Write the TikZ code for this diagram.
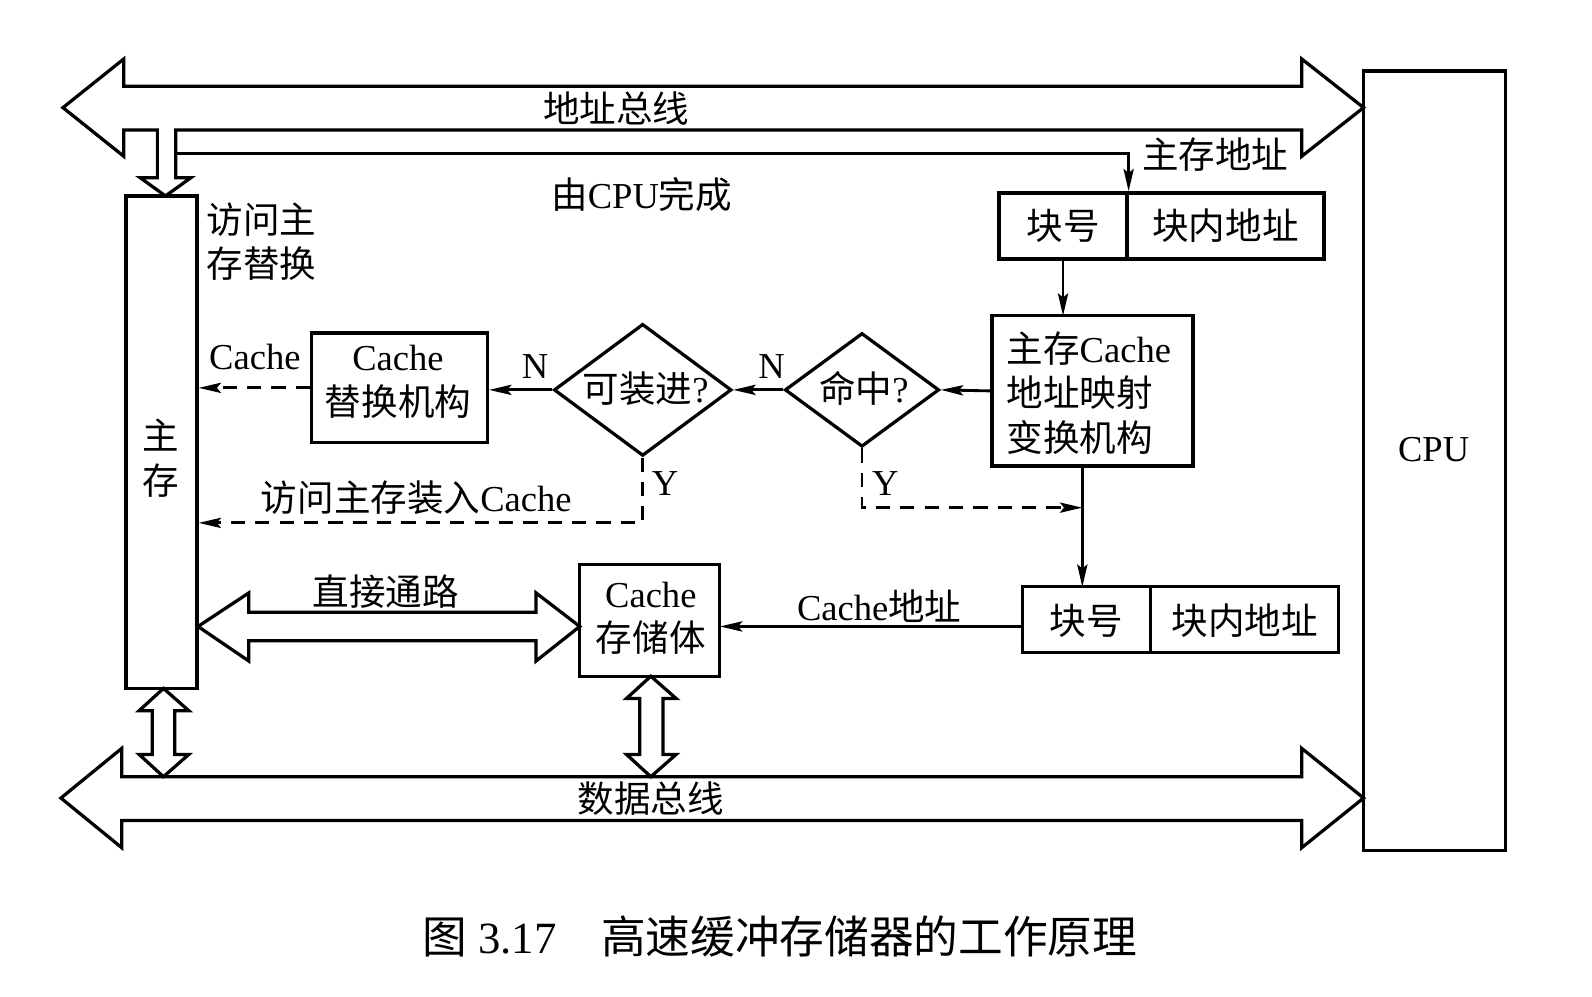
\documentclass[tikz,border=0pt]{standalone}
\usepackage{fontspec}
\setmainfont{Liberation Serif}
\newfontfamily\cjk{Noto Sans CJK SC}
\usetikzlibrary{arrows.meta,shapes.geometric,fit,calc}
\newcommand\zh[1]{{\cjk #1}}
\begin{document}
\begin{tikzpicture}[x=0.5pt,y=-0.5pt,
  every node/.style={font=\fontsize{18}{22}\selectfont, inner sep=0pt},
  box/.style={draw, line width=1.6pt, inner sep=0pt},
  ln/.style={line width=1.4pt},
  arr/.style={ln, -{Stealth[length=11pt,width=5pt,inset=2pt]}},
  dsh/.style={arr, dash pattern=on 7pt off 5pt},
  fat/.style={draw, line width=1.6pt, line join=miter, fill=white},
  dia/.style={draw, diamond, line width=1.6pt, inner sep=0pt},
  txt/.style={align=center},
]
\useasboundingbox (0,0) rectangle (1568,981);

% boxes
\node[box, fit={(124,193)(194,678)}] (mem) {};
\node[box, fit={(1343,70)(1483,838)}] (cpu) {};
\node[box, fit={(984,190)(1110,255)}] (blk1) {};
\node[box, fit={(1110,190)(1304,255)}] (off1) {};
\node[box, fit={(977,311)(1175,459)}] (map) {};
\node[box, fit={(307,328)(480,436)}] (repl) {};
\node[box, fit={(571,556)(709,666)}] (store) {};
\node[box, fit={(1007,578)(1133,643)}] (blk2) {};
\node[box, fit={(1133,578)(1318,643)}] (off2) {};
\node[dia, minimum width=76pt, minimum height=56pt] (hit) at (849,384) {};
\node[dia, minimum width=87.5pt, minimum height=65pt] (load) at (633,384) {};

% address bus with branch to main memory
\draw[fat] (62,106) -- (122,58) -- (122,85) -- (1282,85) -- (1282,58) -- (1343,106)
  -- (1282,154) -- (1282,128) -- (173,128) -- (173,175) -- (188,175) -- (163,193)
  -- (138,175) -- (155,175) -- (155,128) -- (122,128) -- (122,154) -- cycle;
% data bus
\draw[fat] (60,786) -- (120,737) -- (120,765) -- (1282,765) -- (1282,737) -- (1343,786)
  -- (1282,835) -- (1282,808) -- (120,808) -- (120,835) -- cycle;
% memory <-> data bus
\draw[fat] (161,678) -- (186,700) -- (172,700) -- (172,743) -- (186,743) -- (161,765)
  -- (137,743) -- (150,743) -- (150,700) -- (137,700) -- cycle;
% cache store <-> data bus
\draw[fat] (641,666) -- (666,688) -- (653,688) -- (653,743) -- (666,743) -- (641,765)
  -- (617,743) -- (630,743) -- (630,688) -- (617,688) -- cycle;
% direct path
\draw[fat] (195,617) -- (245,584) -- (245,603) -- (528,603) -- (528,584) -- (571,617)
  -- (528,651) -- (528,631) -- (245,631) -- (245,651) -- cycle;

% connectors
\coordinate (br) at (173,151);
\draw[arr] (br) -| (blk1.north east);
\draw[arr] (1047,255) -- (1047,311);
\draw[arr] (map.west) -- (hit.east);
\draw[arr] (hit.west) -- (load.east);
\draw[arr] (load.west) -- (load.west -| repl.east);
\draw[dsh] (repl.west) -- (repl.west -| mem.east);
\coordinate (yl) at (633,515);
\draw[dsh] (load.south) -- (yl) -- (yl -| mem.east);
\coordinate (yh) at (849,500);
\draw[dsh] (hit.south) -- (yh) -- (1066,500);
\draw[arr] (1066,459) -- (1066,578);
\draw[arr] (1007,617) -- (709,617);

% texts
\node at (607,107) {\zh{地址总线}};
\node at (1197,152) {\zh{主存地址}};
\node at (632,192) {\zh{由}CPU\zh{完成}};
\node[align=left, anchor=north west] at (203,199) {\zh{访问主}\\\zh{存替换}};
\node at (1047,222) {\zh{块号}};
\node at (1207,222) {\zh{块内地址}};
\node[align=left, anchor=west] at (991,387) {\zh{主存}Cache\\\zh{地址映射}\\\zh{变换机构}};
\node at (851,383) {\zh{命中}?};
\node at (636,383) {\zh{可装进}?};
\node at (760,361) {N};
\node at (527,361) {N};
\node[txt] at (392,376) {Cache\\\zh{替换机构}};
\node at (251,352) {Cache};
\node at (655,476) {Y};
\node at (872,476) {Y};
\node at (410,490) {\zh{访问主存装入}Cache};
\node[txt] at (158,451) {\zh{主}\\\zh{存}};
\node at (1412,443) {CPU};
\node at (380,583) {\zh{直接通路}};
\node[txt] at (641,609) {Cache\\\zh{存储体}};
\node at (866,597) {Cache\zh{地址}};
\node at (1070,611) {\zh{块号}};
\node at (1226,611) {\zh{块内地址}};
\node at (641,787) {\zh{数据总线}};
\node (cap) at (768,922) {\fontsize{22}{26}\selectfont\zh{图} 3.17\hspace{1em}\zh{高速缓冲存储器的工作原理}};
\end{tikzpicture}
\end{document}
